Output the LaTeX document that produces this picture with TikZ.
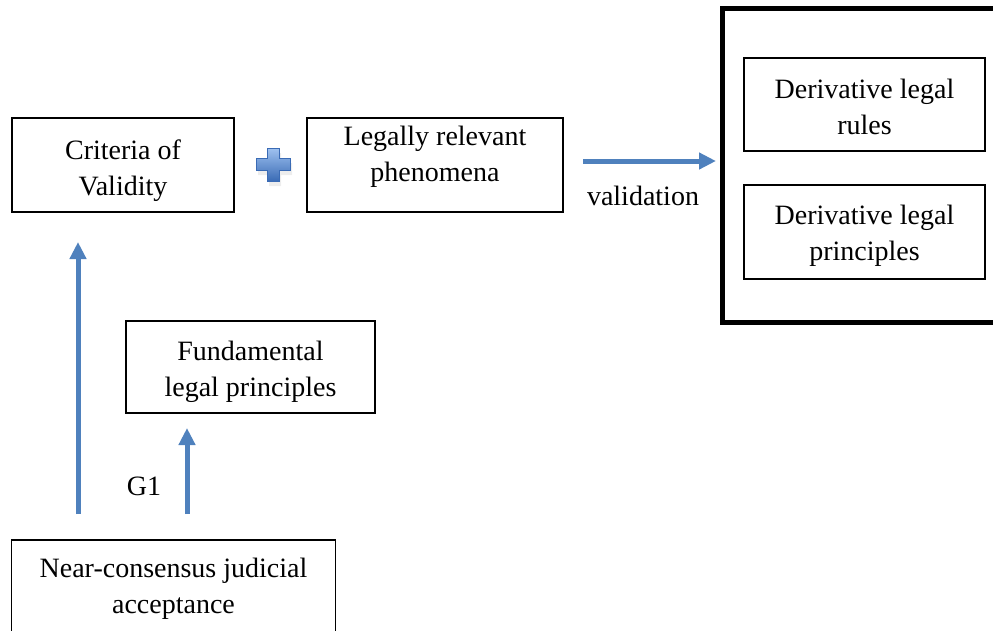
\documentclass[tikz,border=0pt]{standalone}
\usepackage{fontspec}
\setmainfont{Liberation Serif}
\usetikzlibrary{arrows.meta}
\definecolor{arrowblue}{HTML}{4F81BD}
\definecolor{plusdark}{HTML}{3A6BB5}
\definecolor{pluslight}{HTML}{9FC2F0}
\tikzset{
  box/.style={draw=black, line width=1.6pt, inner sep=0pt},
  tx/.style={font=\fontsize{28}{36}\selectfont, align=center, inner sep=0pt},
  lbl/.style={font=\fontsize{28}{36}\selectfont, inner sep=0pt},
  flow/.style={draw=arrowblue, line width=5pt,
    -{Triangle[length=17pt,width=16pt]}},
}
\begin{document}
\begin{tikzpicture}[x=1pt,y=-1pt]
\useasboundingbox (0,0) rectangle (993,630);
\clip (0,0) rectangle (993,630);
% boxes
\node[box, minimum width=222pt, minimum height=94pt,
  label={[tx, yshift=-6pt]center:Criteria of\\Validity}] (crit) at (123,165) {};
\node[box, minimum width=256pt, minimum height=94pt,
  label={[tx, yshift=8pt]center:Legally relevant\\phenomena}] (legal) at (435,165) {};
\node[draw=black, line width=5pt, minimum width=300pt, minimum height=314pt, inner sep=0pt] (outer) at (872,165) {};
\node[box, minimum width=241pt, minimum height=93pt,
  label={[tx, yshift=-2pt]center:Derivative legal\\rules}] (rules) at (864.5,104.5) {};
\node[box, minimum width=241pt, minimum height=94pt,
  label={[tx, yshift=-4pt]center:Derivative legal\\principles}] (dprin) at (864.5,232) {};
\node[box, minimum width=249pt, minimum height=92pt,
  label={[tx, yshift=-5pt]center:Fundamental\\legal principles}] (fund) at (250.5,367) {};
\node[box, minimum width=324pt, minimum height=110pt] (near) at (173.5,595) {};
\node[tx] (neartext) at (173.5,589) {Near-consensus judicial\\acceptance};
% plus icon
\node[lbl] (plus) at (273,164) {};
\fill[black!20, opacity=0.35] (269,153)--(281,153)--(281,163)--(292,163)--(292,175)--(281,175)--(281,186)--(269,186)--(269,175)--(258,175)--(258,163)--(269,163)--cycle;
\shade[top color=pluslight, bottom color=plusdark, draw=plusdark, line width=0.8pt]
  (267,148)--(279,148)--(279,158)--(290,158)--(290,170)--(279,170)--(279,181)--(267,181)--(267,170)--(256,170)--(256,158)--(267,158)--cycle;
% arrows
\coordinate (vS) at (583,161);
\coordinate (vE) at (716,161);
\draw[flow] (vS) -- (vE);
\node[lbl] (valid) at (643,196) {validation};
\coordinate (aS) at (78,514);
\coordinate (aE) at (78,242);
\draw[flow] (aS) -- (aE);
\coordinate (bS) at (187,514);
\coordinate (bE) at (187,428);
\draw[flow] (bS) -- (bE);
\node[lbl] (g1) at (144,486) {G1};
\end{tikzpicture}
\end{document}
